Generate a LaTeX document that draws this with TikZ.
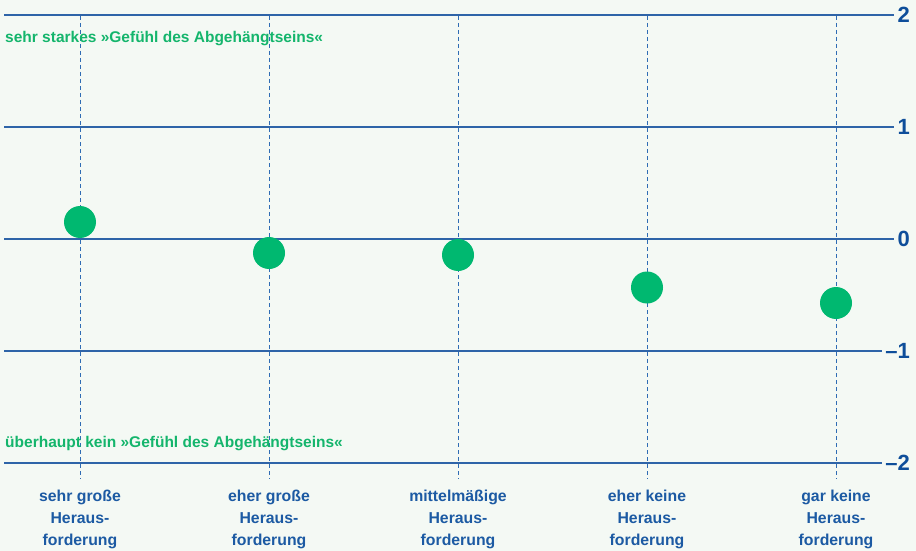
\documentclass[tikz,border=0pt]{standalone}
\usepackage{fontspec}
\setmainfont{Liberation Sans}
\definecolor{bg}{HTML}{F4F9F4}
\definecolor{grn}{HTML}{00B870}
\definecolor{gtext}{HTML}{14B56C}
\definecolor{lblue}{HTML}{2E64A8}
\definecolor{dblue}{HTML}{2F6CB4}
\definecolor{tblue}{HTML}{1C5AA3}
\definecolor{nblue}{HTML}{0E4E9A}
\tikzset{
  hline/.style={draw=lblue, line width=1.1pt},
  vdash/.style={draw=dblue, line width=1pt, dash pattern=on 4pt off 3pt},
  dot/.style={circle, fill=grn, minimum size=32pt, inner sep=0pt},
  ylab/.style={font=\fontsize{22}{22}\selectfont\bfseries, text=nblue, inner sep=0pt, anchor=east},
  gnote/.style={font=\fontsize{15.5}{18}\selectfont\bfseries, text=gtext, inner sep=0pt, anchor=base west},
  xlab/.style={font=\fontsize{15.8}{21.7}\selectfont\bfseries, text=tblue, inner sep=0pt, anchor=north, align=center}
}
\begin{document}
\begin{tikzpicture}[x=1pt,y=-1pt]
\fill[bg] (0,0) rectangle (916,551);
\useasboundingbox (0,0) rectangle (916,551);

% y-axis labels
\node[ylab] (y2) at (910,15) {2};
\node[ylab] (y1) at (910,127) {1};
\node[ylab] (y0) at (910,239) {0};
\node[ylab] (ym1) at (910,351) {–1};
\node[ylab] (ym2) at (910,463) {–2};

% horizontal lines
\foreach \n/\yy in {y2/15,y1/127,y0/239,ym1/351,ym2/463}{
  \coordinate (h\n) at (4,\yy);
  \draw[hline] (h\n) -- ([xshift=-3.5pt]\n.west);
}

% vertical dashed lines
\foreach \i/\xx in {1/80,2/269,3/458,4/647,5/836}{
  \coordinate (vt\i) at (\xx,16);
  \coordinate (vb\i) at (\xx,479);
  \draw[vdash] (vt\i) -- (vb\i);
}

% notes
\node[gnote] (top) at (5,43) {sehr starkes »Gefühl des Abgehängtseins«};
\node[gnote] (bot) at (5,447) {überhaupt kein »Gefühl des Abgehängtseins«};

% dots
\node[dot] (d1) at (80,222) {};
\node[dot] (d2) at (269,253) {};
\node[dot] (d3) at (458,255) {};
\node[dot] (d4) at (647,287.5) {};
\node[dot] (d5) at (836,303) {};

% x labels
\node[xlab] (x1) at (80,490) {sehr große\\Heraus-\\forderung};
\node[xlab] (x2) at (269,490) {eher große\\Heraus-\\forderung};
\node[xlab] (x3) at (458,490) {mittelmäßige\\Heraus-\\forderung};
\node[xlab] (x4) at (647,490) {eher keine\\Heraus-\\forderung};
\node[xlab] (x5) at (836,490) {gar keine\\Heraus-\\forderung};
\end{tikzpicture}
\end{document}
